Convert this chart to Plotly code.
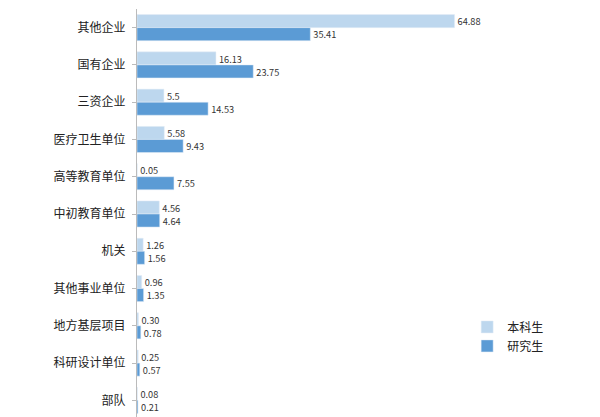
import plotly.graph_objects as go

categories = ["其他企业","国有企业","三资企业","医疗卫生单位","高等教育单位","中初教育单位","机关","其他事业单位","地方基层项目","科研设计单位","部队"]
undergrad = [64.88,16.13,5.5,5.58,0.05,4.56,1.26,0.96,0.30,0.25,0.08]
undergrad_txt = ["64.88","16.13","5.5","5.58","0.05","4.56","1.26","0.96","0.30","0.25","0.08"]
grad = [35.41,23.75,14.53,9.43,7.55,4.64,1.56,1.35,0.78,0.57,0.21]
grad_txt = ["35.41","23.75","14.53","9.43","7.55","4.64","1.56","1.35","0.78","0.57","0.21"]

fig = go.Figure()
fig.add_trace(go.Bar(y=categories, x=undergrad, orientation="h", name="本科生",
                     marker_color="#bdd7ee", text=undergrad_txt, textposition="outside",
                     cliponaxis=False, textfont=dict(size=12, color="#333")))
fig.add_trace(go.Bar(y=categories, x=grad, orientation="h", name="研究生",
                     marker_color="#5b9bd5", text=grad_txt, textposition="outside",
                     cliponaxis=False, textfont=dict(size=12, color="#333")))
fig.update_layout(
    width=600, height=417, barmode="group", bargap=0.3, bargroupgap=0,
    plot_bgcolor="white", paper_bgcolor="white",
    margin=dict(l=129, r=6, t=1, b=6),
    font=dict(family="Noto Sans CJK SC", size=12, color="#222"),
    xaxis=dict(range=[0, 95], visible=False),
    yaxis=dict(autorange="reversed", showline=True, linecolor="#bbb", ticks="outside",
               ticklen=4, tickcolor="#bbb", ticklabelstandoff=4),
    legend=dict(x=0.71, y=0.26, xanchor="left", yanchor="top", traceorder="normal",
                font=dict(size=12), itemwidth=30),
)
fig.write_html("out.html")
